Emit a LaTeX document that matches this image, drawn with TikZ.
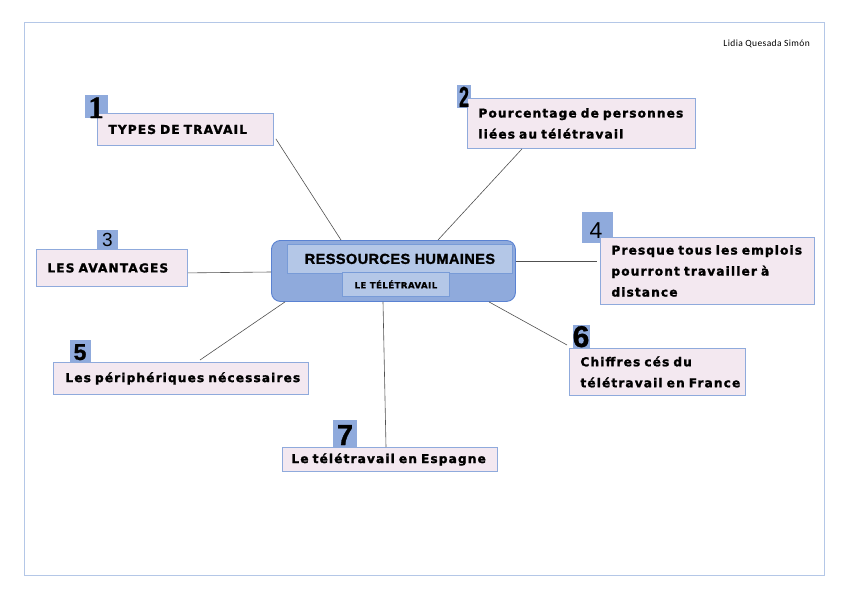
\documentclass[tikz,border=0pt]{standalone}
\usepackage{fontspec}
\setmainfont{DejaVu Sans}
\newfontfamily\boxfont[LetterSpace=9,FakeBold=1.6]{DejaVu Sans Bold}
\newfontfamily\subfont[LetterSpace=6,FakeBold=1.2]{DejaVu Sans Bold}
\newfontfamily\titlefont[LetterSpace=3,FakeBold=1.4]{Liberation Sans Bold}
\newfontfamily\lsans{Liberation Sans}
\newfontfamily\lsansb[FakeBold=1]{Liberation Sans Bold}
\newfontfamily\lserifb[FakeBold=1.5]{Liberation Serif Bold}
\newfontfamily\authfont[LetterSpace=4]{Carlito}
\usetikzlibrary{calc}
\definecolor{framec}{RGB}{180,199,231}
\definecolor{boxfill}{RGB}{243,232,240}
\definecolor{boxline}{RGB}{143,170,220}
\definecolor{numfill}{RGB}{143,170,220}
\definecolor{cfill}{RGB}{143,170,220}
\definecolor{cline}{RGB}{90,130,210}
\definecolor{ifill}{RGB}{180,199,231}
\definecolor{iline}{RGB}{120,155,215}
\definecolor{conn}{RGB}{80,80,80}
\tikzset{
  topic/.style={draw=boxline, fill=boxfill, line width=0.9pt, anchor=north west,
    align=left, inner sep=0pt, font=\boxfont\fontsize{12.2}{21}\selectfont, text=black},
  numbox/.style={fill=numfill, anchor=north west, inner sep=0pt},
  digit/.style={anchor=base, inner sep=0pt, text=black},
  link/.style={draw=conn, line width=0.6pt},
}
\begin{document}
\begin{tikzpicture}[x=1pt,y=-1pt]
\useasboundingbox (0,0) rectangle (848,599);
\draw[framec, line width=0.8pt] (24,22) rectangle (824,575);
\node[anchor=base east, inner sep=0pt, font=\authfont\fontsize{9.5}{10}\selectfont] (auth) at (810,47) {Lidia Quesada Simón};

% central node
\node[draw=cline, fill=cfill, rounded corners=9pt, line width=0.9pt, anchor=north west,
  minimum width=244pt, minimum height=61pt, inner sep=0pt] (c) at (271,240) {};
\node[draw=iline, fill=ifill, line width=0.8pt, anchor=north west, minimum width=225pt,
  minimum height=29pt, inner sep=0pt, font=\titlefont\fontsize{14.5}{16}\selectfont] (ct) at (287,244) {RESSOURCES HUMAINES};
\node[draw=iline, fill=ifill, line width=0.8pt, anchor=north west, minimum width=107pt,
  minimum height=24pt, inner sep=0pt, font=\subfont\fontsize{8.5}{9}\selectfont] (cs) at (342,272) {LE TÉLÉTRAVAIL};

% number squares
\node[numbox, minimum width=23pt, minimum height=23pt] (s1) at (85,95) {};
\node[numbox, minimum width=14pt, minimum height=23pt] (s2) at (457,85) {};
\node[numbox, minimum width=21pt, minimum height=20pt] (s3) at (97,230) {};
\node[numbox, minimum width=31pt, minimum height=31pt] (s4) at (582,212) {};
\node[numbox, minimum width=21pt, minimum height=22pt] (s5) at (70,340) {};
\node[numbox, minimum width=17pt, minimum height=23pt] (s6) at (573,325) {};
\node[numbox, minimum width=24pt, minimum height=27pt] (s7) at (333,420) {};

% topic boxes
\node[topic, minimum width=176pt, minimum height=32pt, text width=168pt] (b1) at (97,113) {\hspace*{7pt}TYPES DE TRAVAIL};
\node[topic, minimum width=228pt, minimum height=50pt, text width=220pt] (b2) at (467,98) {\hspace*{7pt}Pourcentage de personnes\\\hspace*{7pt}liées au télétravail};
\node[topic, minimum width=151pt, minimum height=37pt, text width=143pt] (b3) at (36,249) {\hspace*{7pt}LES AVANTAGES};
\node[topic, minimum width=214pt, minimum height=67pt, text width=206pt] (b4) at (600,237) {\hspace*{7pt}Presque tous les emplois\\\hspace*{7pt}pourront travailler à\\\hspace*{7pt}distance};
\node[topic, minimum width=255pt, minimum height=32pt, text width=247pt] (b5) at (53,362) {\hspace*{8pt}Les périphériques nécessaires};
\node[topic, minimum width=176pt, minimum height=47pt, text width=168pt] (b6) at (569,348) {\hspace*{7pt}Chiffres cés du\\\hspace*{7pt}télétravail en France};
\node[topic, minimum width=215pt, minimum height=24pt, text width=207pt] (b7) at (282,447) {\hspace*{5pt}Le télétravail en Espagne};

% digits
\node[digit, font=\lserifb\fontsize{31}{31}\selectfont] (d1) at (96,118) {1};
\node[digit, font=\lsansb\fontsize{29}{29}\selectfont, xscale=0.62] (d2) at (464,107) {2};
\node[digit, font=\lsans\fontsize{19}{19}\selectfont] (d3) at (107.5,246) {3};
\node[digit, font=\lsans\fontsize{23}{23}\selectfont] (d4) at (596,238) {4};
\node[digit, font=\lsansb\fontsize{23}{23}\selectfont] (d5) at (80,360) {5};
\node[digit, font=\lsansb\fontsize{30}{30}\selectfont] (d6) at (581,347) {6};
\node[digit, font=\lsansb\fontsize{29}{29}\selectfont] (d7) at (345,445) {7};

% connectors
\draw[link] ($(b1.south east)+(2,-7)$) -- ($(c.north west)+(70,0)$);
\draw[link] ($(b2.south west)+(55,0)$) -- ($(c.north west)+(167,0)$);
\draw[link] ($(b3.south east)+(0,-14)$) -- ($(c.north west)+(0,32)$);
\draw[link] ($(c.north east)+(0,21)$) -- ($(b4.north west)+(-3,24)$);
\draw[link] ($(b5.north west)+(147,-2)$) -- ($(c.south west)+(14,0)$);
\draw[link] ($(c.south west)+(218,0)$) -- ($(b6.north west)+(-2,-3)$);
\draw[link] ($(c.south west)+(112,0)$) -- ($(b7.north west)+(104,0)$);
\end{tikzpicture}
\end{document}
